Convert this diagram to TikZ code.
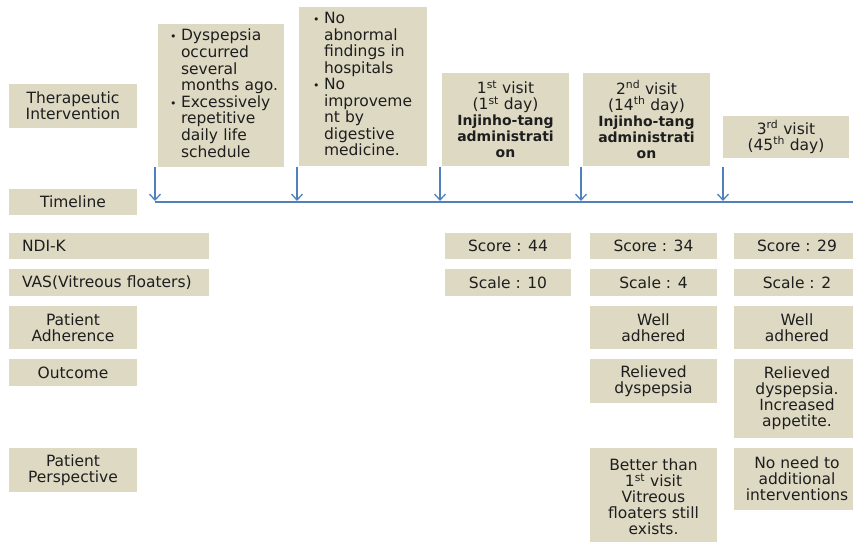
\documentclass[tikz,border=0pt]{standalone}
\usepackage{fontspec}
\setmainfont{DejaVu Sans}
\usetikzlibrary{arrows.meta}
\definecolor{boxfill}{HTML}{DDD9C3}
\definecolor{tlblue}{HTML}{4F81BD}
\definecolor{txt}{HTML}{1E1E1E}
\newcommand\bul{\makebox[11pt][l]{\fontsize{11}{16}\selectfont •}}
\begin{document}
\begin{tikzpicture}[x=1pt,y=-1pt,
  bx/.style={rectangle, fill=boxfill, inner sep=0pt, text=txt, align=center,
    font=\fontsize{15.5}{16}\selectfont},
  lbx/.style={bx, align=left, inner xsep=13pt, text width=174pt},
  bf/.style={font=\fontsize{14}{16}\selectfont\bfseries},
  tl/.style={draw=tlblue, line width=1.4pt},
  tlarrow/.style={tl, -{Straight Barb[length=6pt,width=11pt,line width=1.3pt]}}]
\useasboundingbox (0,0) rectangle (853,541);
\begin{scope}
\clip (0,0) rectangle (853,541);
% left labels
\node[bx, minimum width=128pt, minimum height=44pt] (ther) at (73,106) {Therapeutic\\Intervention};
\node[bx, minimum width=128pt, minimum height=26pt] (time) at (73,202) {Timeline};
\node[lbx, minimum height=26pt] (ndik) at (109,246) {NDI-K};
\node[lbx, minimum height=27pt] (vas) at (109,282.5) {VAS(Vitreous floaters)};
\node[bx, minimum width=128pt, minimum height=43pt] (adh) at (73,327.5) {Patient\\Adherence};
\node[bx, minimum width=128pt, minimum height=27pt] (outc) at (73,372.5) {Outcome};
\node[bx, minimum width=128pt, minimum height=44pt] (persp) at (73,470) {Patient\\Perspective};
% timeline boxes
\node[bx, align=left, inner xsep=12pt, text width=102pt, minimum height=143pt] (b1) at (221,95.5)
  {\begin{tabular}{@{}l@{}l@{}}
   \bul & Dyspepsia\\ & occurred\\ & several\\ & months ago.\\
   \bul & Excessively\\ & repetitive\\ & daily life\\ & schedule
   \end{tabular}};
\node[bx, align=left, inner xsep=14pt, text width=100pt, minimum height=159pt] (b2) at (363,86.5)
  {\begin{tabular}{@{}l@{}l@{}}
   \bul & No\\ & abnormal\\ & findings in\\ & hospitals\\
   \bul & No\\ & improveme\\ & nt by\\ & digestive\\ & medicine.
   \end{tabular}\\[3pt]};
\node[bx, minimum width=127pt, minimum height=93pt] (b3) at (505.5,119.5)
  {1\textsuperscript{st} visit\\(1\textsuperscript{st} day)\\{\bfseries\fontsize{14}{16}\selectfont Injinho-tang}\\{\bfseries\fontsize{14}{16}\selectfont administrati}\\{\bfseries\fontsize{14}{16}\selectfont on}};
\node[bx, minimum width=127pt, minimum height=93pt] (b4) at (646.5,119.5)
  {2\textsuperscript{nd} visit\\(14\textsuperscript{th} day)\\{\bfseries\fontsize{14}{16}\selectfont Injinho-tang}\\{\bfseries\fontsize{14}{16}\selectfont administrati}\\{\bfseries\fontsize{14}{16}\selectfont on}};
\node[bx, minimum width=126pt, minimum height=42pt] (b5) at (786,137)
  {3\textsuperscript{rd} visit\\(45\textsuperscript{th} day)};
% scores
\node[bx, minimum width=126pt, minimum height=26pt] (s1) at (508,246) {Score : 44};
\node[bx, minimum width=127pt, minimum height=26pt] (s2) at (653.5,246) {Score : 34};
\node[bx, minimum width=126pt, minimum height=26pt] (s3) at (797,246) {Score : 29};
\node[bx, minimum width=126pt, minimum height=27pt] (c1) at (508,282.5) {Scale : 10};
\node[bx, minimum width=127pt, minimum height=27pt] (c2) at (653.5,282.5) {Scale : 4};
\node[bx, minimum width=126pt, minimum height=27pt] (c3) at (797,282.5) {Scale : 2};
\node[bx, minimum width=127pt, minimum height=43pt] (a2) at (653.5,327.5) {Well\\adhered};
\node[bx, minimum width=126pt, minimum height=43pt] (a3) at (797,327.5) {Well\\adhered};
\node[bx, minimum width=127pt, minimum height=44pt] (o2) at (653.5,381) {Relieved\\dyspepsia};
\node[bx, minimum width=126pt, minimum height=79pt] (o3) at (797,398.5) {Relieved\\dyspepsia.\\Increased\\appetite.};
\node[bx, minimum width=127pt, minimum height=97pt] (p2) at (653.5,496.5) {Better than\\1\textsuperscript{st} visit\\Vitreous\\floaters still\\exists.};
\node[bx, minimum width=126pt, minimum height=62pt] (p3) at (797,479) {No need to\\additional\\interventions};
\end{scope}
% timeline
\coordinate (tstart) at (155,202);
\coordinate (tend) at (853,202);
\draw[tl] (tstart) -- (tend);
\foreach \i/\x in {1/155,2/297,3/440,4/581,5/723}{
  \coordinate (u\i) at (\x,167);
  \coordinate (d\i) at (\x,201);
  \draw[tlarrow] (u\i) -- (d\i);
}
\end{tikzpicture}
\end{document}
